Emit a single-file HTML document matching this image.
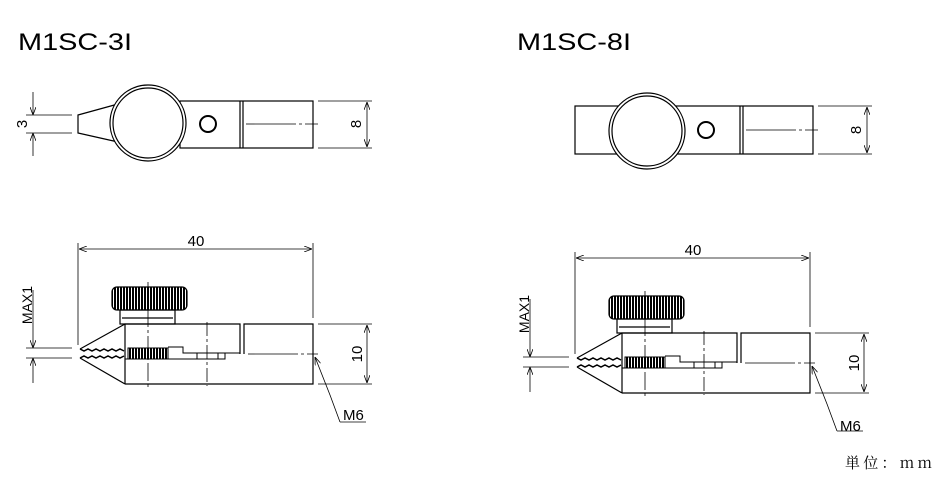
<!DOCTYPE html>
<html><head><meta charset="utf-8"><style>
body{margin:0;background:#fff;width:950px;height:500px;overflow:hidden}
svg{display:block}
text{font-family:"Liberation Sans","Noto Sans CJK JP",sans-serif;fill:#000}
</style></head><body>
<svg width="950" height="500" viewBox="0 0 950 500" xmlns="http://www.w3.org/2000/svg">
<defs>
<pattern id="knurl" width="3" height="10" patternUnits="userSpaceOnUse"><rect width="3" height="10" fill="#fff"/><rect width="2" height="10" fill="#000"/></pattern>
<marker id="ar" markerWidth="8" markerHeight="6" refX="8" refY="3" orient="auto-start-reverse" markerUnits="userSpaceOnUse"><path d="M0,0 L8,3 L0,6" fill="none" stroke="#000" stroke-width="0.8"/></marker>
<g id="side" fill="none" stroke="#000" stroke-width="1.2">
  <rect x="112" y="287" width="75" height="23" rx="5" fill="url(#knurl)"/>
  <rect x="120" y="310" width="55" height="14"/>
  <line x1="122" y1="318" x2="173" y2="318"/>
  <path d="M125,384 L125,324 L240,324 L240,354"/>
  <path d="M244,354 L244,324 L313,324 L313,384 L125,384"/>
  <path d="M125,324 L80,349 M125,384 L80,358"/>
  <path d="M80,349 l4,2 l4,-2 l4,2 l4,-2 l4,2 l4,-2 l4,2 l4,-2 l4,2 l4,-2 l4,2 M80,358 l4,-2 l4,2 l4,-2 l4,2 l4,-2 l4,2 l4,-2 l4,2 l4,-2 l4,2 l4,-2" stroke-width="1.5"/>
  <rect x="128" y="348" width="40" height="11" fill="url(#knurl)" stroke-width="1"/>
  <path d="M168,347 L183,347 L183,353 L240,353 M125,359 L225,359 L225,353 M197,353 L197,359 M218,353 L218,359" stroke-width="1"/>
  <line x1="148" y1="282" x2="148" y2="388" stroke-width="0.8" stroke-dasharray="18,3,3,3"/>
  <line x1="207" y1="322" x2="207" y2="386" stroke-width="0.8" stroke-dasharray="14,3,3,3"/>
  <line x1="248" y1="354" x2="318" y2="354" stroke-width="0.8" stroke-dasharray="50,3,3,3"/>
  <line x1="78" y1="243" x2="78" y2="345" stroke-width="0.8"/>
  <line x1="313" y1="243" x2="313" y2="318" stroke-width="0.8"/>
  <line x1="79" y1="249" x2="312" y2="249" stroke-width="0.8" marker-start="url(#ar)" marker-end="url(#ar)"/>
  <line x1="318" y1="324" x2="372" y2="324" stroke-width="0.8"/>
  <line x1="318" y1="384" x2="372" y2="384" stroke-width="0.8"/>
  <line x1="367" y1="325" x2="367" y2="383" stroke-width="0.8" marker-start="url(#ar)" marker-end="url(#ar)"/>
  <line x1="26" y1="348" x2="72" y2="348" stroke-width="0.8"/>
  <line x1="26" y1="358" x2="72" y2="358" stroke-width="0.8"/>
  <line x1="33" y1="290" x2="33" y2="348" stroke-width="0.8" marker-end="url(#ar)"/>
  <line x1="33" y1="383" x2="33" y2="358" stroke-width="0.8" marker-end="url(#ar)"/>
  <path d="M340,422 L330,395 L315,357" stroke-width="0.8" marker-end="url(#ar)"/>
  <line x1="340" y1="422" x2="366" y2="422" stroke-width="0.8"/>
</g>
</defs>
<text x="18" y="50" font-size="24" textLength="114" lengthAdjust="spacingAndGlyphs">M1SC-3I</text>
<text x="517" y="50" font-size="24" textLength="114" lengthAdjust="spacingAndGlyphs">M1SC-8I</text>

<g fill="none" stroke="#000" stroke-width="1.2">
  <path d="M118,104 L78,115 L78,133 L118,142"/>
  <rect x="180" y="101" width="133" height="47"/>
  <line x1="240" y1="101" x2="240" y2="148"/><line x1="243" y1="101" x2="243" y2="148"/>
  <circle cx="148" cy="123" r="38" fill="#fff"/><circle cx="148" cy="123" r="35"/>
  <circle cx="208" cy="124" r="8" stroke-width="2"/>
  <line x1="246" y1="124" x2="318" y2="124" stroke-width="0.8" stroke-dasharray="50,3,3,3"/>
  <line x1="318" y1="101" x2="372" y2="101" stroke-width="0.8"/>
  <line x1="318" y1="148" x2="372" y2="148" stroke-width="0.8"/>
  <line x1="367" y1="102" x2="367" y2="147" stroke-width="0.8" marker-start="url(#ar)" marker-end="url(#ar)"/>
  <line x1="26" y1="115" x2="72" y2="115" stroke-width="0.8"/>
  <line x1="26" y1="133" x2="72" y2="133" stroke-width="0.8"/>
  <line x1="33" y1="92" x2="33" y2="115" stroke-width="0.8" marker-end="url(#ar)"/>
  <line x1="33" y1="156" x2="33" y2="133" stroke-width="0.8" marker-end="url(#ar)"/>
</g>
<text transform="translate(361,124) rotate(-90)" font-size="15" text-anchor="middle">8</text>
<text transform="translate(27,124) rotate(-90)" font-size="15" text-anchor="middle">3</text>

<g fill="none" stroke="#000" stroke-width="1.2">
  <rect x="575" y="106" width="238" height="48"/>
  <line x1="740" y1="106" x2="740" y2="154"/><line x1="743" y1="106" x2="743" y2="154"/>
  <circle cx="647" cy="131" r="38" fill="#fff"/><circle cx="647" cy="131" r="35"/>
  <circle cx="706" cy="130" r="8" stroke-width="2"/>
  <line x1="746" y1="130" x2="818" y2="130" stroke-width="0.8" stroke-dasharray="50,3,3,3"/>
  <line x1="818" y1="106" x2="872" y2="106" stroke-width="0.8"/>
  <line x1="818" y1="154" x2="872" y2="154" stroke-width="0.8"/>
  <line x1="867" y1="107" x2="867" y2="153" stroke-width="0.8" marker-start="url(#ar)" marker-end="url(#ar)"/>
</g>
<text transform="translate(861,130) rotate(-90)" font-size="15" text-anchor="middle">8</text>

<use href="#side"/>
<use href="#side" transform="translate(497,9)"/>
<text x="196" y="246" font-size="15" text-anchor="middle">40</text>
<text x="693" y="255" font-size="15" text-anchor="middle">40</text>
<text transform="translate(362,354) rotate(-90)" font-size="15" text-anchor="middle">10</text>
<text transform="translate(859,363) rotate(-90)" font-size="15" text-anchor="middle">10</text>
<text transform="translate(32,305) rotate(-90)" font-size="14" text-anchor="middle">MAX1</text>
<text transform="translate(529,314) rotate(-90)" font-size="14" text-anchor="middle">MAX1</text>
<text x="343" y="420" font-size="15">M6</text>
<text x="840" y="431" font-size="15">M6</text>
<text x="845" y="468" font-size="15" textLength="87" lengthAdjust="spacing" style="font-family:'Noto Serif CJK SC','Liberation Serif',serif">単位：mm</text>
</svg>
</body></html>
